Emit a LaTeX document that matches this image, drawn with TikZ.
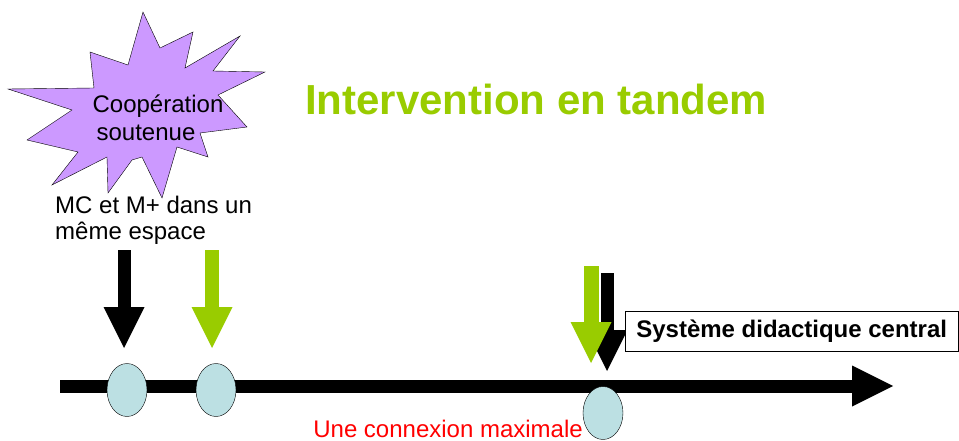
\documentclass[tikz,border=0pt]{standalone}
\usepackage{fontspec}
\setmainfont{Liberation Sans}
\usetikzlibrary{positioning,arrows.meta,shapes.geometric}
\definecolor{tandemgreen}{HTML}{99CC00}
\definecolor{starviolet}{HTML}{CC99FF}
\definecolor{paleblue}{HTML}{BCE0E3}

\begin{document}
\begin{tikzpicture}[x=1pt,y=-1pt,
  bubble/.style={ellipse, draw=black, thin, fill=paleblue, minimum width=40pt, minimum height=53pt, inner sep=0pt},
  bigarrow/.style={line width=13pt, -{Triangle[width=41pt,length=41pt,line width=0pt]}},
  txt/.style={font=\fontsize{24}{27}\selectfont, inner sep=0pt}]

  \useasboundingbox (0,0) rectangle (959,441);

  % star
  \draw[fill=starviolet, thin] (143,12) -- (160,48) -- (193,32) -- (185,68) -- (240,36) -- (213,71)
    -- (265,72) -- (218,95) -- (247,127) -- (200,133) -- (208,157) -- (177,147) -- (162,198)
    -- (142,157) -- (132,160) -- (108,193) -- (107,157) -- (52,185) -- (78,152) -- (27,140)
    -- (72,110) -- (8,89) -- (94,88) -- (90,52) -- (128,65) -- cycle;
  \node[txt, anchor=base] (coop) at (158,113) {Coopération};
  \node[txt, anchor=base] (soutenue) at (146,141) {soutenue};

  \node[font=\fontsize{42}{48}\selectfont\bfseries, text=tandemgreen, inner sep=0pt, anchor=base west] (title) at (305,115) {Intervention en tandem};

  \node[txt, align=left, anchor=base west] (espace) at (55,240) {MC et M+ dans un\\même espace};

  % axis
  \coordinate (axis start) at (60,386);
  \coordinate (axis end) at (893,386);
  \draw[bigarrow] (axis start) -- (axis end);

  \node[bubble] (e1) at (127,390) {};
  \node[bubble] (e2) at (216,390) {};
  \node[bubble] (e3) at (603,413) {};

  % arrows
  \coordinate (black1 top) at (124,250);
  \coordinate (black1 tip) at (124,348);
  \coordinate (green2 top) at (212,250);
  \coordinate (green2 tip) at (212,348);
  \coordinate (black3 top) at (607,273);
  \coordinate (black3 tip) at (607,371);
  \coordinate (green3 top) at (591,266);
  \coordinate (green3 tip) at (591,363);
  \draw[bigarrow] (black1 top) -- (black1 tip);
  \draw[bigarrow, tandemgreen, line width=14pt] (green2 top) -- (green2 tip);
  \draw[bigarrow] (black3 top) -- (black3 tip);
  \draw[bigarrow, tandemgreen, line width=15pt] (green3 top) -- (green3 tip);

  \node[draw, thin, fill=white, minimum width=333pt, minimum height=40pt, anchor=west, font=\fontsize{24}{27}\selectfont\bfseries, inner sep=0pt] (sdc) at (625,331) {Système didactique central};

  \node[txt, text=red, anchor=base east] (connexion) at (583,437) {Une connexion maximale};

\end{tikzpicture}
\end{document}
